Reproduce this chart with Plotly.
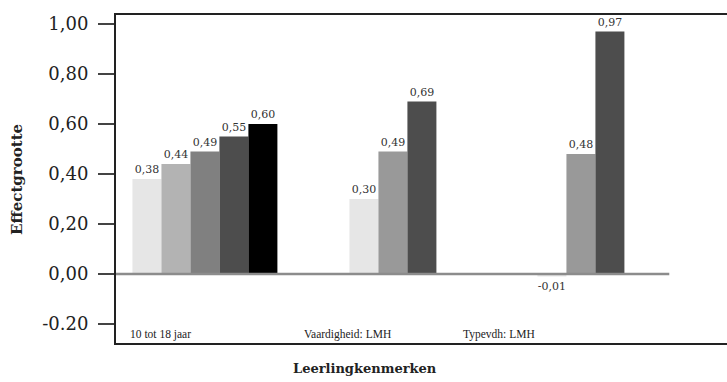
import plotly.graph_objects as go

# Categories (leerlingkenmerken) and effect sizes per bar slot within each group
categories = ["10 tot 18 jaar", "Vaardigheid: LMH", "Typevdh: LMH"]
slot_values = [
    [0.38, None, None],
    [0.44, 0.30, -0.01],
    [0.49, 0.49, 0.48],
    [0.55, 0.69, 0.97],
    [0.60, None, None],
]
slot_colors = [
    ["#e6e6e6", "#e6e6e6", "#e6e6e6"],
    ["#b3b3b3", "#e6e6e6", "#e6e6e6"],
    ["#808080", "#999999", "#999999"],
    ["#4d4d4d", "#4d4d4d", "#4d4d4d"],
    ["#000000", "#000000", "#000000"],
]
tick_vals = [-0.20, 0.0, 0.20, 0.40, 0.60, 0.80, 1.00]
tick_text = ["-0.20", "0,00", "0,20", "0,40", "0,60", "0,80", "1,00"]

FONT = "DejaVu Serif"
FONT_NARROW = "Liberation Serif"
W, H = 727, 382
L, R, T, B = 116, 0, 15, 39
PW, PH = W - L - R, H - T - B


def px(x):
    return (x - L) / PW


def py(y):
    return (H - B - y) / PH


def fmt(v):
    return "" if v is None else f"{v:.2f}".replace(".", ",")


fig = go.Figure()
for vals, cols in zip(slot_values, slot_colors):
    fig.add_trace(go.Bar(
        x=categories, y=vals,
        marker=dict(color=cols, line=dict(width=0)),
        text=[fmt(v) for v in vals],
        textposition="outside",
        textfont=dict(family=FONT, size=11, color="#333333"),
        cliponaxis=False,
        showlegend=False,
    ))

fig.update_layout(
    width=W, height=H,
    margin=dict(l=L, r=R, t=T, b=B),
    paper_bgcolor="white", plot_bgcolor="white",
    barmode="group", bargap=0.229, bargroupgap=0,
    font=dict(family=FONT, color="#222222"),
    xaxis=dict(
        range=[-0.473, 2.777], showticklabels=False, ticks="",
        showgrid=False, zeroline=False,
        showline=True, mirror=True, linecolor="#222222", linewidth=2,
    ),
    yaxis=dict(
        range=[-0.276, 1.036], tickvals=tick_vals, ticktext=tick_text,
        ticks="outside", ticklen=16, tickcolor="#444444", tickwidth=1.5,
        ticklabelstandoff=6,
        tickfont=dict(family=FONT, size=18, color="#222222"),
        showgrid=False, zeroline=False,
        showline=True, mirror=False, linecolor="#222222", linewidth=2,
    ),
)

# Baseline at zero
fig.add_shape(type="line", xref="x", yref="y", x0=-0.473, x1=2.47, y0=0, y1=0,
              line=dict(color="#8c8c8c", width=2.5), layer="above")

# Category labels along the bottom of the plot area
for name, xpix in zip(categories, [128, 302, 461]):
    fig.add_annotation(text=name, xref="paper", yref="paper", x=px(xpix), y=py(334),
                       xanchor="left", yanchor="middle", showarrow=False,
                       font=dict(family=FONT_NARROW, size=11.5, color="#222222"))

fig.add_annotation(text="<b>Effectgrootte</b>", xref="paper", yref="paper",
                   x=px(17), y=py(180), textangle=-90, xanchor="center", yanchor="middle",
                   showarrow=False, font=dict(family=FONT, size=15, color="#222222"))
fig.add_annotation(text="<b>Leerlingkenmerken</b>", xref="paper", yref="paper",
                   x=px(365), y=py(368), xanchor="center", yanchor="middle",
                   showarrow=False, font=dict(family=FONT, size=13, color="#222222"))

fig.write_html("out.html")
